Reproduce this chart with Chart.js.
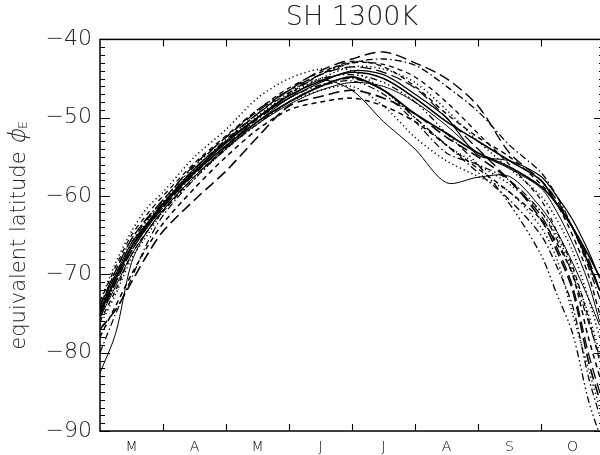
<!DOCTYPE html>
<html>
<head>
<meta charset="utf-8">
<script src="https://cdn.jsdelivr.net/npm/chart.js@4.4.1/dist/chart.umd.min.js"></script>
<style>
  html, body { margin: 0; padding: 0; background: #fff; }
  #wrap { width: 600px; height: 455px; overflow: hidden; }
  canvas { display: block; }
</style>
</head>
<body>
<div id="wrap"><canvas id="c" width="605" height="455"></canvas></div>
<script>
// months, Mar..Oct (x axis in month units, 0 = 1 March)
const months = ['M', 'A', 'M', 'J', 'J', 'A', 'S', 'O'];
const yTicks = [-90, -80, -70, -60, -50, -40];
const xGrid = [0, 0.25, 0.5, 0.75, 1, 1.5, 2, 2.5, 3, 3.5, 4, 4.5, 5, 5.5, 6, 6.5, 7, 7.25, 7.5, 7.75, 7.93];

// equivalent latitude, one array per winter
const y01 = [-82.6, -77.5, -68.5, -64.5, -61.8, -57.5, -54, -50.5, -47.5, -45.2, -46.5, -50.5, -54, -58.3, -57.6, -57.5, -61.5, -64.5, -68.5, -73, -76.5];
const y02 = [-75, -70.5, -66.5, -63.8, -61.2, -57, -53.6, -50.5, -48, -46, -44.8, -46.5, -49.5, -52, -54.5, -56.3, -58.8, -61, -64, -68.5, -72];
const y03 = [-74, -70, -66, -63.5, -61, -56.5, -53, -50, -47.5, -45.5, -44, -44.5, -47, -50, -54.8, -55.5, -57.5, -60, -63, -67, -70.5];
const y04 = [-73.5, -68.5, -64.5, -61.5, -59.5, -55, -51.5, -47.5, -45, -43.8, -44, -46.5, -50, -53.5, -56, -58.5, -62, -65, -69.5, -75, -80];
const y05 = [-77, -74.5, -71, -67.5, -64.5, -60.5, -56.8, -52.5, -48.5, -47.3, -46.5, -47.5, -49.5, -52.5, -55, -58, -63, -67, -72, -81, -86];
const y06 = [-75.5, -71, -67, -64, -61.5, -57, -53, -49.5, -46.5, -44, -42.5, -41.6, -43, -45, -48.5, -54.5, -58, -60.5, -64, -68, -72];
const y07 = [-74.5, -70, -66, -63, -60.8, -56.5, -52.8, -49.5, -46.8, -44.5, -43, -42.5, -43.3, -46, -49.2, -53.5, -57, -60, -64, -69, -73];
const y08 = [-76, -72, -67.5, -64.5, -62, -57.5, -53.8, -50, -47, -44.5, -42.8, -43.5, -46, -49.5, -52.5, -55, -58.5, -61, -65, -70, -75];
const y09 = [-76.5, -72.5, -68, -65, -62, -57.8, -54, -50.8, -48, -46.5, -46, -48.5, -52.5, -55.5, -57.5, -59.5, -64, -68, -75, -82, -87];
const y10 = [-74, -69.5, -65.5, -62.8, -60.5, -56.2, -52.5, -49, -46.5, -45, -44.5, -45.5, -48, -52, -56, -61, -67.5, -72.5, -77.5, -86, -90.5];
const y11 = [-75.5, -71.5, -67.5, -64.5, -61.8, -57.5, -53.8, -50.8, -48.3, -46.5, -45.5, -46, -48, -51, -54.5, -56.5, -59, -62, -66, -71, -76];
const y12 = [-78, -74, -70, -66.5, -63.5, -59, -55, -51.5, -49, -48, -47.5, -48.5, -50.5, -53.5, -56.5, -59.5, -63, -66, -70, -78, -83];
const y13 = [-75, -71, -67, -64, -61.5, -57.2, -53.5, -50.2, -47.5, -45.8, -45, -46.5, -50, -53.5, -57, -60.5, -65, -69, -74, -83, -88];
const y14 = [-74.5, -70.5, -66.5, -63.5, -61, -56.8, -53.2, -50, -47.2, -45.3, -44.2, -45, -47.5, -50.5, -53, -55.5, -58, -61, -64, -67.5, -70.3];
const y15 = [-75, -71, -66.5, -63.2, -60.8, -56.5, -53, -49.8, -47, -45, -43.5, -43.8, -45.5, -49, -53, -56.5, -60, -63, -67, -73, -78];
const y16 = [-74, -69.5, -65.5, -62.8, -60.5, -56, -52.5, -49.2, -46.5, -44.5, -43.5, -44.2, -46.2, -50, -54, -58, -62.5, -66.5, -71.5, -80, -85];
const y17 = [-73.5, -69, -65, -62.3, -60, -55.8, -52.3, -49, -46.2, -44.2, -43, -43.2, -44.8, -48, -52, -56, -60.5, -64.5, -69, -75.5, -81];
const y18 = [-80, -75, -70.5, -66, -62.5, -57.8, -54, -50.8, -48, -46, -45.3, -47, -50.5, -54.5, -56, -58, -62, -65.5, -70, -76, -80.5];

const series = [y01, y02, y03, y04, y05, y06, y07, y08, y09, y10, y11, y12, y13, y14, y15, y16, y17, y18];

// line styles (IDL linestyles), one per series
const dashes = {
  solid: [],
  dash: [5, 4],
  longdash: [11, 5],
  dot: [1.2, 3],
  dashdot: [7, 3, 1.5, 3],
  dash3dot: [7, 3, 1.5, 3, 1.5, 3, 1.5, 3]
};
const styles = [
  ['solid', 1.0], ['solid', 1.8], ['solid', 1.2], ['dot', 1.5], ['longdash', 1.6], ['longdash', 1.4],
  ['dashdot', 1.3], ['dash', 1.4], ['dot', 1.5], ['dash3dot', 1.3], ['solid', 1.0], ['dash', 1.5],
  ['dashdot', 1.3], ['solid', 1.6], ['dot', 1.5], ['longdash', 1.3], ['dash', 1.3], ['dashdot', 1.2]
];

const font = "'DejaVu Sans', 'Liberation Sans', sans-serif";

const datasets = series.map((vals, i) => ({
  data: xGrid.map((x, k) => ({x: x, y: vals[k]})),
  borderColor: '#000',
  borderWidth: styles[i][1],
  borderDash: dashes[styles[i][0]],
  pointRadius: 0,
  tension: 0.3,
  fill: false
}));

// frame, inward ticks and the y axis title
const frame = {
  id: 'frame',
  afterDraw(chart) {
    const {ctx, chartArea: a, scales: {x, y}} = chart;
    ctx.save();
    ctx.strokeStyle = '#000';
    ctx.lineWidth = 1.5;
    ctx.strokeRect(a.left, a.top, a.right - a.left, a.bottom - a.top);
    ctx.lineWidth = 1.1;
    ctx.beginPath();
    for (let v = -90; v <= -40; v++) {
      const py = Math.round(y.getPixelForValue(v)) + 0.5;
      const len = v % 10 === 0 ? 10 : 5;
      ctx.moveTo(a.left, py); ctx.lineTo(a.left + len, py);
      ctx.moveTo(a.right, py); ctx.lineTo(a.right - len, py);
    }
    for (let m = 1; m < months.length; m++) {
      const px = Math.round(x.getPixelForValue(m)) + 0.5;
      ctx.moveTo(px, a.bottom); ctx.lineTo(px, a.bottom - 7);
      ctx.moveTo(px, a.top); ctx.lineTo(px, a.top + 7);
    }
    ctx.stroke();

    // "equivalent latitude ϕE"
    const main = 'equivalent latitude ';
    ctx.fillStyle = '#222';
    ctx.textBaseline = 'alphabetic';
    ctx.font = '200 21px ' + font;
    const w1 = ctx.measureText(main).width;
    ctx.font = '200 24px ' + font;
    const w2 = ctx.measureText('\u03D5').width;
    ctx.font = '200 13px ' + font;
    const w3 = ctx.measureText('E').width;
    const total = w1 + w2 + w3;
    ctx.translate(18, (a.top + a.bottom) / 2);
    ctx.rotate(-Math.PI / 2);
    let cx = -total / 2;
    ctx.font = '200 21px ' + font;
    ctx.fillText(main, cx, 7);
    cx += w1;
    ctx.save();
    ctx.translate(cx, 7);
    ctx.transform(1, 0, -0.22, 1, 0, 0);
    ctx.font = '200 24px ' + font;
    ctx.fillText('\u03D5', 0, 0);
    ctx.restore();
    cx += w2;
    ctx.font = '200 13px ' + font;
    ctx.fillText('E', cx, 9);
    ctx.restore();
  }
};

new Chart(document.getElementById('c'), {
  type: 'line',
  data: {datasets: datasets},
  options: {
    responsive: false,
    animation: false,
    devicePixelRatio: 1,
    layout: {padding: {left: 0, right: 1, top: 0, bottom: 0}},
    plugins: {
      legend: {display: false},
      tooltip: {enabled: false},
      title: {
        display: true,
        text: 'SH 1300K',
        fullSize: false,
        color: '#222',
        font: {family: font, size: 27, weight: 200},
        padding: {top: 2, bottom: 5}
      }
    },
    scales: {
      x: {
        type: 'linear',
        min: 0,
        max: months.length,
        grid: {display: false, drawTicks: false},
        border: {display: false},
        afterBuildTicks: (s) => { s.ticks = months.map((m, i) => ({value: i + 0.5})); },
        afterFit: (s) => { s.height = 24; },
        ticks: {
          padding: 8,
          color: '#000',
          font: {family: font, size: 14, weight: 200},
          maxRotation: 0,
          autoSkip: false,
          callback: (v) => months[Math.floor(v)]
        }
      },
      y: {
        min: -90,
        max: -40,
        grid: {display: false, drawTicks: false},
        border: {display: false},
        afterBuildTicks: (s) => { s.ticks = yTicks.map(v => ({value: v})); },
        afterFit: (s) => { s.width = 100; },
        ticks: {
          padding: 8,
          color: '#222',
          font: {family: font, size: 22, weight: 200},
          callback: (v) => '\u2212' + Math.abs(v)
        }
      }
    }
  },
  plugins: [frame]
});
</script>
</body>
</html>
